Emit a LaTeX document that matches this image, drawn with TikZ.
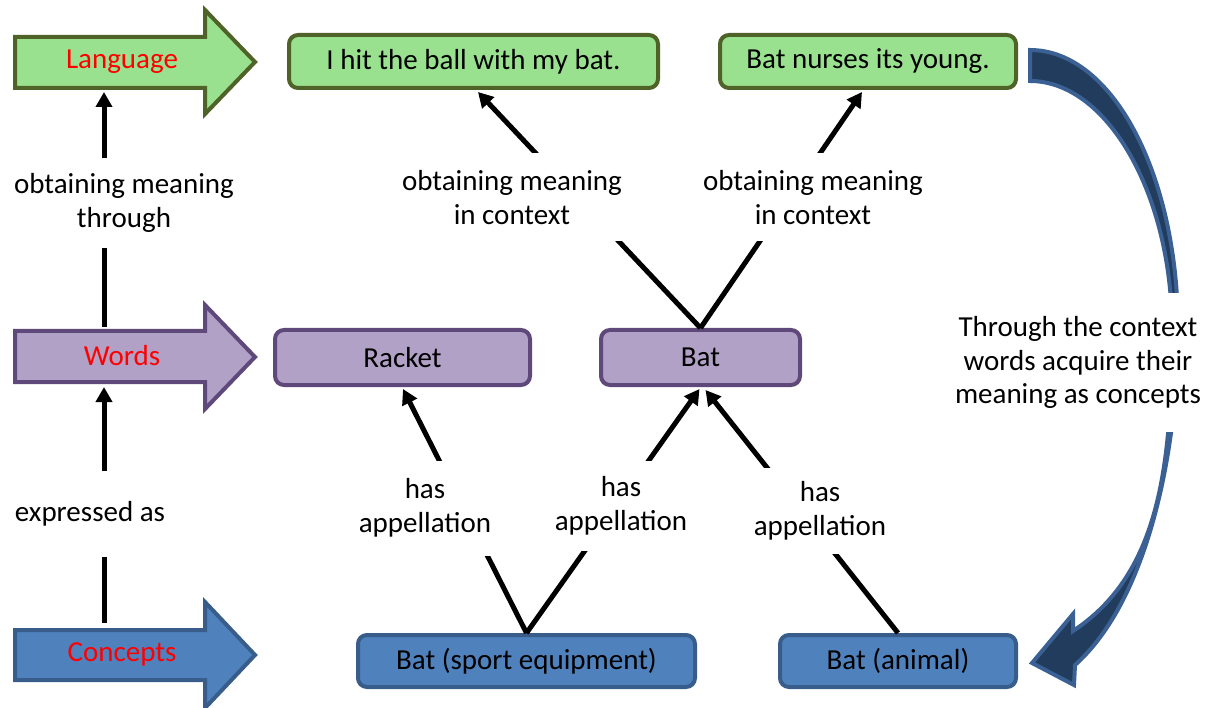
\documentclass[tikz,border=0pt]{standalone}
\usepackage{fontspec}
\setmainfont{Carlito}
\usetikzlibrary{arrows.meta,calc}
\definecolor{gfill}{HTML}{99E18F}
\definecolor{gline}{HTML}{4F6228}
\definecolor{pfill}{HTML}{B2A1C7}
\definecolor{pline}{HTML}{5F497A}
\definecolor{bfill}{HTML}{4F81BD}
\definecolor{bline}{HTML}{385D8A}
\definecolor{cfill}{HTML}{223C5D}
\definecolor{cline}{HTML}{3B6194}
\definecolor{tred}{HTML}{FF0000}
\begin{document}
\begin{tikzpicture}[x=1pt,y=-1pt,
  every node/.style={font=\fontsize{29}{33.5}\selectfont, inner sep=0pt},
  box/.style={draw, line width=4pt, rounded corners=9pt, minimum height=53pt},
  gbox/.style={box, draw=gline, fill=gfill},
  pbox/.style={box, draw=pline, fill=pfill, minimum height=55pt},
  bbox/.style={box, draw=bline, fill=bfill, minimum height=52pt},
  bigarrow/.style={line width=4pt, line join=miter},
  conn/.style={line width=5pt, draw=black},
  tipped/.style={-{Triangle[length=15pt,width=16pt]}},
  lbl/.style={align=center, fill=white, inner xsep=4pt},
]
\useasboundingbox (0,0) rectangle (1215,708);

% left block arrows
\path[bigarrow, draw=gline, fill=gfill] (15,37) -- (205,37) -- (205,10) -- (255,62) -- (205,114) -- (205,88) -- (15,88) -- cycle;
\node[text=tred] (langT) at (122,62) {Language};
\path[bigarrow, draw=pline, fill=pfill] (15,331) -- (205,331) -- (205,305) -- (255,357) -- (205,409) -- (205,382) -- (15,382) -- cycle;
\node[text=tred] (wordsT) at (122,355.5) {Words};
\path[bigarrow, draw=bline, fill=bfill] (15,630) -- (205,630) -- (205,602) -- (255,655) -- (205,708) -- (205,680) -- (15,680) -- cycle;
\node[text=tred] (conceptsT) at (122,654) {Concepts};

\coordinate (langB) at (104,92);
\coordinate (wordT) at (104,327);
\coordinate (wordB) at (104,387);
\coordinate (concT) at (104,623);

\node[lbl, minimum height=89pt] (l1) at (124,203) {obtaining meaning\\through};
\node[lbl, minimum height=85pt] (l2) at (90,514) {expressed as};
\draw[conn, tipped] (l1.north -| langB) -- (langB);
\draw[conn] (l1.south -| wordT) -- (wordT);
\draw[conn, tipped] (l2.north -| wordB) -- (wordB);
\draw[conn] (l2.south -| concT) -- (concT);

% boxes
\node[gbox, minimum width=369pt] (s1) at (473.5,61.5) {I hit the ball with my bat.};
\node[gbox, minimum width=296pt] (s2) at (868,61.5) {Bat nurses its young.};
\node[pbox, minimum width=255pt] (racket) at (402.5,357.5) {Racket};
\node[pbox, minimum width=199pt] (bat) at (700.5,357.5) {Bat};
\node[bbox, minimum width=337pt] (eq) at (526.5,661) {Bat (sport equipment)};
\node[bbox, minimum width=236pt] (an) at (898,661) {Bat (animal)};

% connectors
\draw[conn, tipped] (bat.north) -- ($(s1.south)+(4.5,2)$);
\draw[conn, tipped] (bat.north) -- ($(s2.south)+(-6,2)$);
\draw[conn, tipped] (eq.north) -- ($(racket.south)+(0.5,2)$);
\draw[conn, tipped] (eq.north) -- ($(bat.south)+(-1,2)$);
\draw[conn, tipped] (an.north) -- ($(bat.south)+(5,3)$);

\node[lbl, minimum height=88pt] (c1) at (512,197.5) {obtaining meaning\\in context};
\node[lbl, minimum height=88pt] (c2) at (813,197.5) {obtaining meaning\\in context};
\node[lbl, minimum height=95pt] (h1) at (425,508) {has\\appellation};
\node[lbl, minimum height=90pt] (h2) at (621,506) {has\\appellation};
\node[lbl, minimum height=86pt] (h3) at (820,511) {has\\appellation};

% curved arrow
\path[bigarrow, draw=cline, fill=cfill]
  (1030,50) .. controls (1112,50) and (1178,174) .. (1178,330)
  .. controls (1178,450) and (1148,600) .. (1075,665)
  -- (1074,685) -- (1032,663) -- (1073,614) -- (1073,631)
  .. controls (1158,575) and (1172,470) .. (1172,330)
  .. controls (1172,194) and (1107,81) .. (1030,81) -- cycle;
\node[lbl, minimum height=139pt] (ctx) at (1078,362.5) {Through the context\\words acquire their\\meaning as concepts};
\end{tikzpicture}
\end{document}
